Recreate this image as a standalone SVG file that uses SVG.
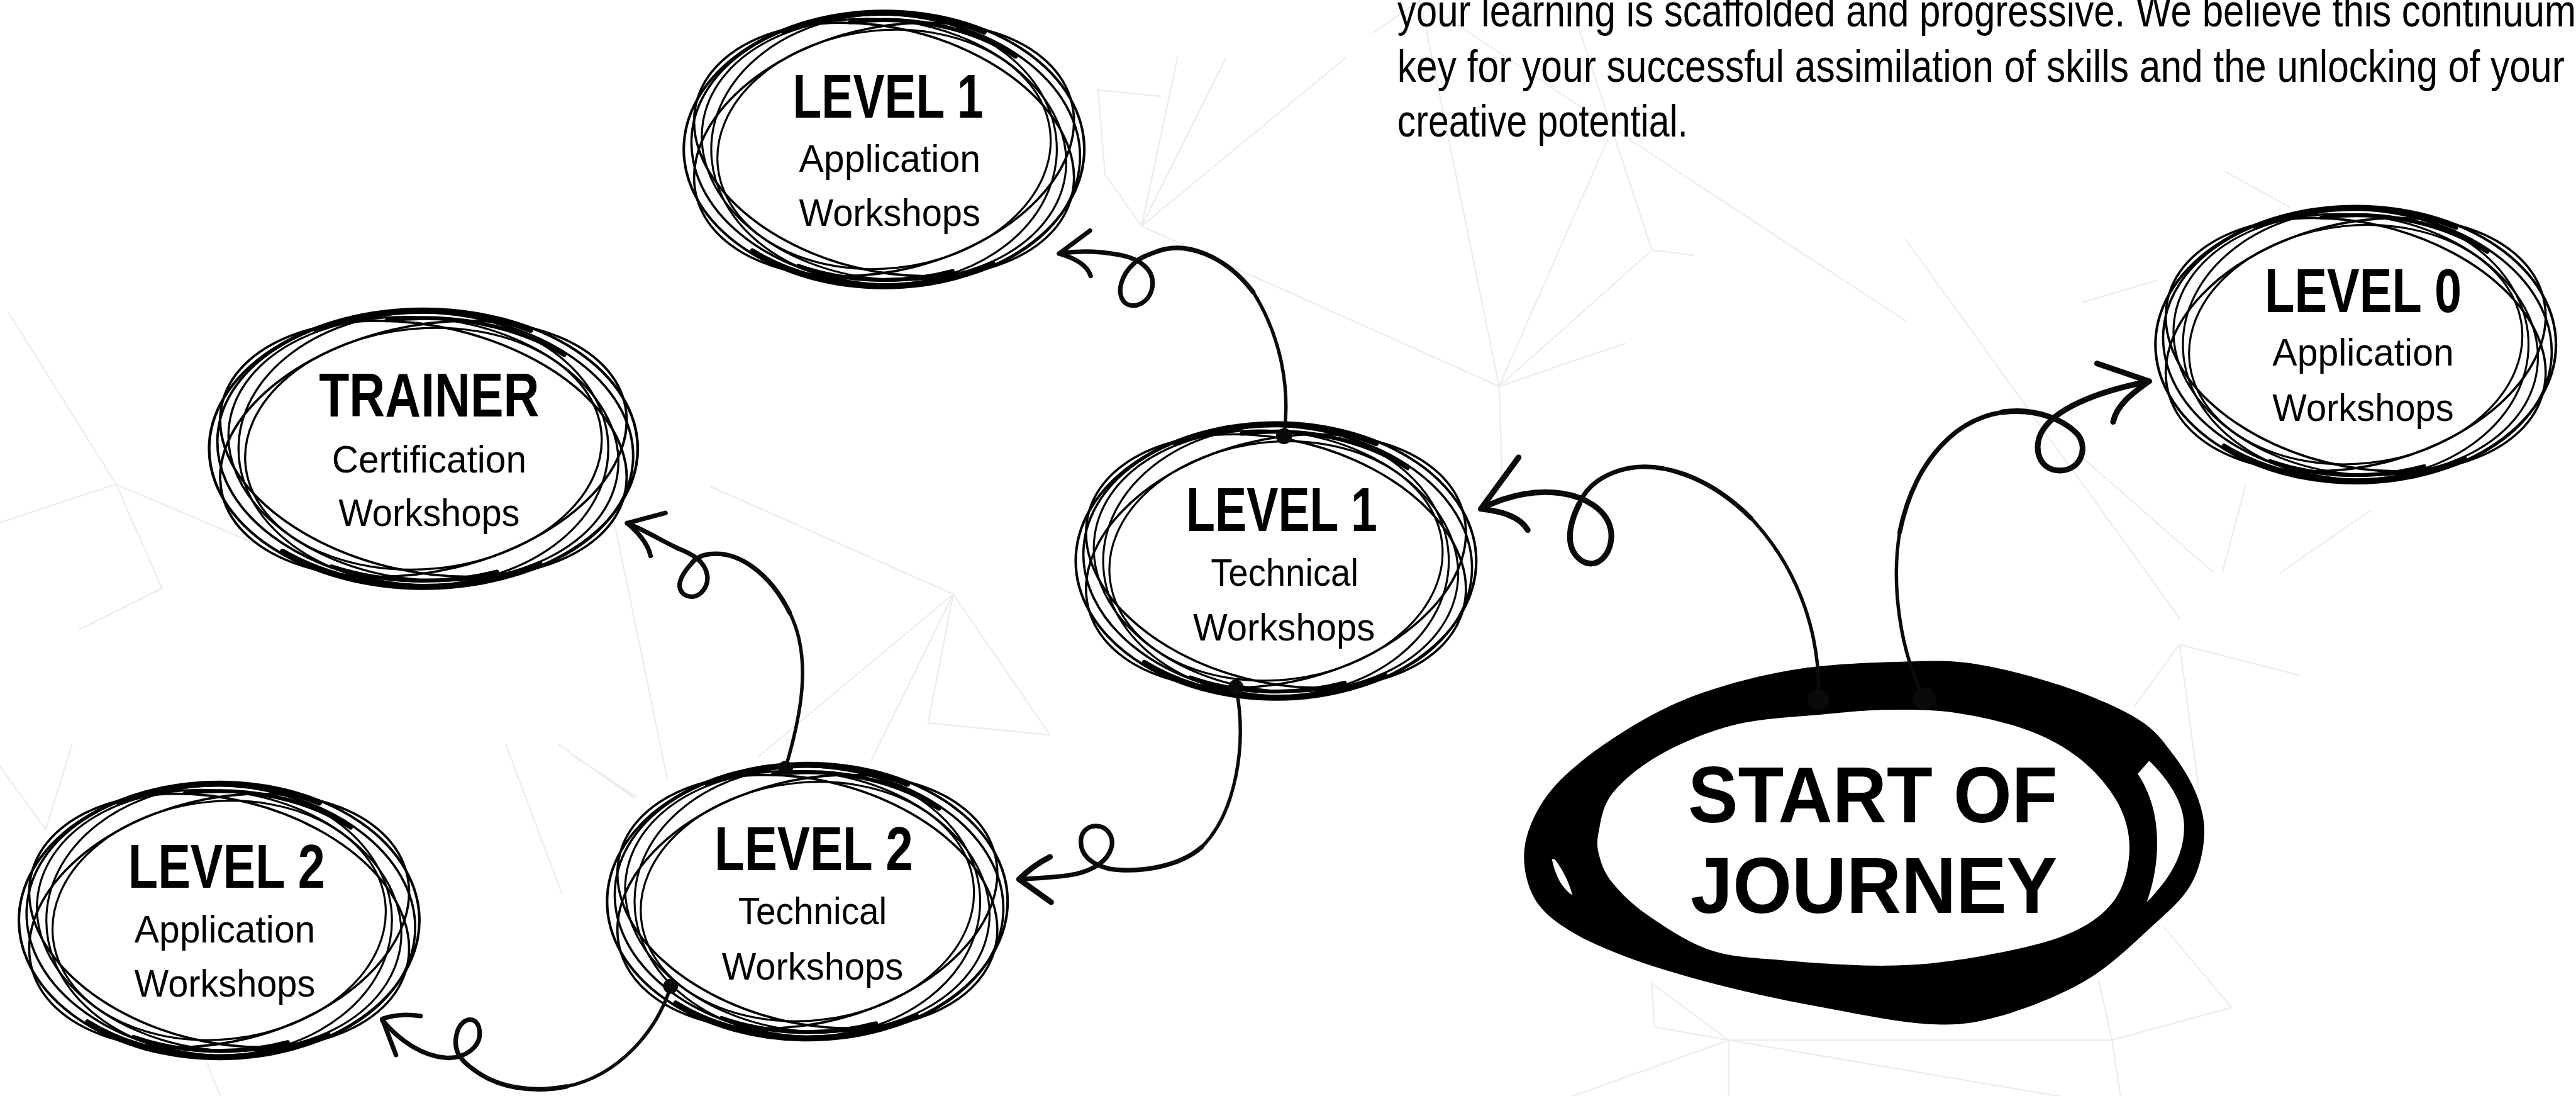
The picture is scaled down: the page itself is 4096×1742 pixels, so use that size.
<svg xmlns="http://www.w3.org/2000/svg" xmlns:xlink="http://www.w3.org/1999/xlink" width="4096" height="1742" viewBox="0 0 4096 1742">
  <defs>
    <style>
      .bg line { stroke: #e9eee7; stroke-width: 2.5; stroke-linecap: round; }
      .ring { fill: none; stroke: #000; }
      .band { fill: none; stroke: #000; stroke-linecap: round; }
      .head { font-family: "Liberation Sans", Arial, sans-serif; font-weight: 700; font-size: 107px; text-anchor: middle; fill: #000; }
      .sub { font-family: "Liberation Sans", Arial, sans-serif; font-size: 68px; text-anchor: middle; fill: #000; }
      .para { font-family: "Liberation Sans", Arial, sans-serif; font-size: 79px; fill: #000; }
      .big { font-family: "Liberation Sans", Arial, sans-serif; font-weight: 700; font-size: 138px; text-anchor: middle; fill: #000; }
      .conn path { fill: none; stroke: #0a0a0a; stroke-linecap: round; stroke-linejoin: round; }
      .thin { stroke-width: 6; }
      .mid { stroke-width: 8; }
      .thick { stroke-width: 10; }
      .dot { fill: #0a0a0a; }
    </style>
    <!-- hand-drawn scribbled ring used by every workshop node -->
    <g id="scribble">
      <ellipse cx="0" cy="0" rx="335" ry="232" fill="#fff"/>
      <ellipse class="ring" rx="350" ry="242" stroke-width="4.5"/>
      <ellipse class="ring" cx="3" rx="340" ry="236" stroke-width="4" transform="rotate(4)"/>
      <ellipse class="ring" rx="338" ry="212" stroke-width="4" transform="rotate(14)"/>
      <ellipse class="ring" rx="338" ry="212" stroke-width="4" transform="rotate(-14)"/>
      <ellipse class="ring" rx="302" ry="236" stroke-width="3.5"/>
      <ellipse class="ring" rx="320" ry="226" stroke-width="3.5" transform="rotate(8)"/>
      <ellipse class="ring" rx="292" ry="208" stroke-width="3.5" transform="rotate(-6)"/>
      <path class="band" stroke-width="9" d="M-175,-205.1 A345,238 0 0 1 175,-205.1"/>
      <path class="band" stroke-width="7" d="M-60,-222.2 A330,226 0 0 1 230,-162.1"/>
      <path class="band" stroke-width="9" d="M190,198.7 A345,238 0 0 1 -230,177.4"/>
      <path class="band" stroke-width="7" d="M120,212.6 A332,228 0 0 1 -150,203.4"/>
    </g>
  </defs>

  <rect width="4096" height="1742" fill="#fff"/>

  <g transform="scale(0.909818)">
    <!-- faint low-poly network behind everything -->
    <g id="background" class="bg">
      <line x1="1919" y1="157" x2="2028" y2="168"/>
      <line x1="1919" y1="157" x2="1931" y2="304"/>
      <line x1="1931" y1="304" x2="1995" y2="395"/>
      <line x1="1995" y1="395" x2="2058" y2="100"/>
      <line x1="1995" y1="395" x2="2143" y2="100"/>
      <line x1="1995" y1="395" x2="2353" y2="100"/>
      <line x1="1995" y1="395" x2="2620" y2="675"/>
      <line x1="2400" y1="57" x2="2482" y2="0"/>
      <line x1="2482" y1="0" x2="2620" y2="675"/>
      <line x1="2482" y1="0" x2="2960" y2="318"/>
      <line x1="2960" y1="318" x2="3330" y2="560"/>
      <line x1="2743" y1="0" x2="2887" y2="437"/>
      <line x1="2887" y1="437" x2="2960" y2="446"/>
      <line x1="2887" y1="437" x2="2620" y2="675"/>
      <line x1="2810" y1="243" x2="2620" y2="675"/>
      <line x1="2620" y1="675" x2="2625" y2="832"/>
      <line x1="2620" y1="675" x2="2840" y2="600"/>
      <line x1="3330" y1="418" x2="3810" y2="1081"/>
      <line x1="3809" y1="1126" x2="3729" y2="1235"/>
      <line x1="3809" y1="1126" x2="4020" y2="1180"/>
      <line x1="3809" y1="1126" x2="3843" y2="1380"/>
      <line x1="2887" y1="1718" x2="2891" y2="1794"/>
      <line x1="2891" y1="1794" x2="3021" y2="1817"/>
      <line x1="3021" y1="1817" x2="3691" y2="1817"/>
      <line x1="3691" y1="1817" x2="3900" y2="1760"/>
      <line x1="3691" y1="1817" x2="3668" y2="1713"/>
      <line x1="3691" y1="1817" x2="3706" y2="1915"/>
      <line x1="3021" y1="1817" x2="3021" y2="1915"/>
      <line x1="3021" y1="1817" x2="2749" y2="1915"/>
      <line x1="3021" y1="1817" x2="3599" y2="1915"/>
      <line x1="3021" y1="1817" x2="2887" y2="1718"/>
      <line x1="3782" y1="1620" x2="3900" y2="1760"/>
      <line x1="3889" y1="300" x2="4001" y2="362"/>
      <line x1="3640" y1="528" x2="3769" y2="490"/>
      <line x1="3640" y1="800" x2="3868" y2="1000"/>
      <line x1="3924" y1="849" x2="3884" y2="1000"/>
      <line x1="4144" y1="891" x2="3986" y2="1000"/>
      <line x1="1242" y1="850" x2="1666" y2="1038"/>
      <line x1="1666" y1="1038" x2="1622" y2="1263"/>
      <line x1="1622" y1="1263" x2="1835" y2="1284"/>
      <line x1="1666" y1="1038" x2="1835" y2="1284"/>
      <line x1="1666" y1="1038" x2="1325" y2="1322"/>
      <line x1="1666" y1="1038" x2="1523" y2="1328"/>
      <line x1="1070" y1="895" x2="1166" y2="1360"/>
      <line x1="1000" y1="1319" x2="1112" y2="1392"/>
      <line x1="15" y1="546" x2="203" y2="846"/>
      <line x1="203" y1="846" x2="0" y2="913"/>
      <line x1="203" y1="846" x2="283" y2="1028"/>
      <line x1="203" y1="846" x2="459" y2="955"/>
      <line x1="283" y1="1028" x2="138" y2="1100"/>
      <line x1="0" y1="1339" x2="80" y2="1449"/>
      <line x1="80" y1="1449" x2="126" y2="1300"/>
      <line x1="976" y1="1300" x2="1108" y2="1394"/>
      <line x1="884" y1="1300" x2="982" y2="1561"/>
      <line x1="362" y1="1857" x2="385" y2="1915"/>
    </g>

    <!-- workshop nodes -->
    <g id="node-level1-application">
      <use xlink:href="#scribble" transform="translate(1545,261)"/>
      <text class="head" x="1552" y="205" textLength="333" lengthAdjust="spacingAndGlyphs">LEVEL 1</text>
      <text class="sub" x="1555" y="300" textLength="317" lengthAdjust="spacingAndGlyphs">Application</text>
      <text class="sub" x="1555" y="395" textLength="317" lengthAdjust="spacingAndGlyphs">Workshops</text>
    </g>

    <g id="node-level1-technical">
      <use xlink:href="#scribble" transform="translate(2230,980)"/>
      <text class="head" x="2240" y="928" textLength="334" lengthAdjust="spacingAndGlyphs">LEVEL 1</text>
      <text class="sub" x="2245" y="1023" textLength="258" lengthAdjust="spacingAndGlyphs">Technical</text>
      <text class="sub" x="2244" y="1119" textLength="318" lengthAdjust="spacingAndGlyphs">Workshops</text>
    </g>

    <g id="node-level0-application">
      <use xlink:href="#scribble" transform="translate(4117,602)"/>
      <text class="head" x="4130" y="545" textLength="344" lengthAdjust="spacingAndGlyphs">LEVEL 0</text>
      <text class="sub" x="4130" y="639" textLength="317" lengthAdjust="spacingAndGlyphs">Application</text>
      <text class="sub" x="4130" y="735" textLength="317" lengthAdjust="spacingAndGlyphs">Workshops</text>
    </g>

    <g id="node-trainer-certification">
      <use xlink:href="#scribble" transform="translate(740,784) scale(1.07,1.01)"/>
      <text class="head" x="750" y="728" textLength="385" lengthAdjust="spacingAndGlyphs">TRAINER</text>
      <text class="sub" x="750" y="825" textLength="340" lengthAdjust="spacingAndGlyphs">Certification</text>
      <text class="sub" x="750" y="919" textLength="317" lengthAdjust="spacingAndGlyphs">Workshops</text>
    </g>

    <g id="node-level2-technical">
      <use xlink:href="#scribble" transform="translate(1411,1575)"/>
      <text class="head" x="1422" y="1520" textLength="347" lengthAdjust="spacingAndGlyphs">LEVEL 2</text>
      <text class="sub" x="1420" y="1615" textLength="260" lengthAdjust="spacingAndGlyphs">Technical</text>
      <text class="sub" x="1420" y="1711" textLength="317" lengthAdjust="spacingAndGlyphs">Workshops</text>
    </g>

    <g id="node-level2-application">
      <use xlink:href="#scribble" transform="translate(383,1608)"/>
      <text class="head" x="396" y="1551" textLength="344" lengthAdjust="spacingAndGlyphs">LEVEL 2</text>
      <text class="sub" x="393" y="1647" textLength="316" lengthAdjust="spacingAndGlyphs">Application</text>
      <text class="sub" x="393" y="1741" textLength="316" lengthAdjust="spacingAndGlyphs">Workshops</text>
    </g>

    <!-- start node: heavy brush ring -->
    <g id="node-start">
      <path fill="#000" fill-rule="evenodd" d="M2664,1485 C2666.5,1457.2 2679.2,1427 2696,1401 C2712.8,1375 2734.3,1353.7 2765,1329 C2795.7,1304.3 2841.8,1273.8 2880,1253 C2918.2,1232.2 2949.5,1218.2 2994,1204 C3038.5,1189.8 3092.2,1176 3147,1168 C3201.8,1160 3272,1157.3 3323,1156 C3374,1154.7 3405.8,1152.8 3453,1160 C3500.2,1167.2 3558.8,1183 3606,1199 C3653.2,1215 3704,1236.2 3736,1256 C3768,1275.8 3780.7,1295.5 3798,1318 C3815.3,1340.5 3831,1366.7 3840,1391 C3849,1415.3 3854,1438 3852,1464 C3850,1490 3843.5,1521 3828,1547 C3812.5,1573 3789.5,1592.3 3759,1620 C3728.5,1647.7 3689.5,1687 3645,1713 C3600.5,1739 3538,1763.3 3492,1776 C3446,1788.7 3420,1791.7 3369,1789 C3318,1786.3 3244.7,1770.8 3186,1760 C3127.3,1749.2 3071.8,1737.8 3017,1724 C2962.2,1710.2 2902.8,1693.5 2857,1677 C2811.2,1660.5 2771.3,1643.2 2742,1625 C2712.7,1606.8 2694,1591.3 2681,1568 C2668,1544.7 2661.5,1512.8 2664,1485 Z M2794,1453 C2797.8,1434.8 2800,1408.5 2818,1386 C2836,1363.5 2866.2,1338 2902,1318 C2937.8,1298 2985.7,1277.7 3033,1266 C3080.3,1254.3 3141.5,1252.3 3186,1248 C3230.5,1243.7 3260.5,1240.3 3300,1240 C3339.5,1239.7 3380.8,1239.5 3423,1246 C3465.2,1252.5 3516,1264.3 3553,1279 C3590,1293.7 3619.5,1311.8 3645,1334 C3670.5,1356.2 3693.3,1385.2 3706,1412 C3718.7,1438.8 3723.5,1467.3 3721,1495 C3718.5,1522.7 3710.2,1554.7 3691,1578 C3671.8,1601.3 3645.7,1619.3 3606,1635 C3566.3,1650.7 3504,1663.3 3453,1672 C3402,1680.7 3357.3,1686.2 3300,1687 C3242.7,1687.8 3161.2,1681.7 3109,1677 C3056.8,1672.3 3025.2,1672 2987,1659 C2948.8,1646 2908.2,1618.5 2880,1599 C2851.8,1579.5 2832.2,1559.3 2818,1542 C2803.8,1524.7 2799,1509.8 2795,1495 C2791,1480.2 2790.2,1471.2 2794,1453 Z"/>
      <path fill="#fff" d="M3756,1329 C3790,1362 3815,1400 3817,1440 C3818,1480 3805,1522 3752,1576 C3768,1530 3772,1490 3769,1450 C3766,1410 3752,1375 3736,1352 Z"/>
      <path fill="#fff" d="M2712,1500 C2718,1530 2730,1552 2748,1564 C2742,1540 2730,1518 2718,1502 Z"/>
      <text class="big" x="3273" y="1437" textLength="646" lengthAdjust="spacingAndGlyphs">START OF</text>
      <text class="big" x="3275" y="1595" textLength="641" lengthAdjust="spacingAndGlyphs">JOURNEY</text>
    </g>

    <!-- looped arrows between nodes -->
    <g id="connectors" class="conn">
      <!-- start -> level 1 technical -->
      <path class="thin" d="M3178,1222 C3182,1120 3150,1000 3060,905"/>
      <path class="mid" d="M3060,905 C2990,835 2900,800 2830,822 C2790,835 2770,855 2760,880"/>
      <path class="thick" d="M2760,880 C2740,920 2735,960 2765,980 C2795,998 2822,960 2815,925 C2808,890 2770,868 2730,862 C2690,856 2640,862 2590,888"/>
      <path class="thick" d="M2654,799 L2588,889 C2620,893 2655,900 2670,926"/>
      <ellipse class="dot" cx="3178" cy="1222" rx="19" ry="18"/>

      <!-- start -> level 0 application -->
      <path class="thin" d="M3364,1220 C3320,1140 3305,1020 3320,930"/>
      <path class="mid" d="M3320,930 C3340,830 3400,735 3500,720"/>
      <path class="thick" d="M3500,720 C3560,712 3610,735 3632,760 C3650,785 3635,822 3600,822 C3565,822 3552,785 3568,755 C3590,715 3660,685 3756,666"/>
      <path class="thick" d="M3665,635 L3756,666 C3730,685 3700,705 3693,737"/>
      <ellipse class="dot" cx="3363" cy="1220" rx="21" ry="19"/>

      <!-- level 1 technical -> level 1 application -->
      <path class="thin" d="M2244,763 C2255,680 2240,590 2190,510"/>
      <path class="mid" d="M2190,510 C2140,445 2070,420 2020,440 C2000,447 1990,452 1982,460 C1960,480 1950,510 1965,528 C1980,542 2010,530 2014,500 C2018,470 1990,452 1960,446 C1930,440 1890,437 1851,443"/>
      <path class="mid" d="M1905,403 L1851,443 C1875,450 1900,462 1906,482"/>
      <circle class="dot" cx="2244" cy="762" r="14"/>

      <!-- level 1 technical -> level 2 technical -->
      <path class="thin" d="M2160,1200 C2180,1300 2160,1420 2100,1480"/>
      <path class="mid" d="M2100,1480 C2060,1515 1990,1525 1940,1518 C1915,1512 1895,1500 1890,1480 C1885,1455 1900,1443 1915,1443 C1935,1443 1948,1462 1942,1482 C1935,1505 1910,1520 1880,1527 C1850,1533 1815,1534 1781,1536"/>
      <path class="thick" d="M1835,1497 C1815,1507 1795,1522 1781,1536 L1837,1576"/>
      <circle class="dot" cx="2160" cy="1200" r="13"/>

      <!-- level 2 technical -> trainer certification -->
      <path class="thin" d="M1373,1341 C1400,1250 1420,1150 1380,1070"/>
      <path class="mid" d="M1380,1070 C1345,1000 1290,962 1240,968 C1225,970 1215,975 1208,985 C1190,1005 1180,1025 1195,1038 C1215,1052 1240,1030 1236,1005 C1232,980 1210,968 1185,958 C1155,944 1125,925 1096,914"/>
      <path class="mid" d="M1163,896 L1096,914 C1115,930 1132,948 1137,971"/>
      <circle class="dot" cx="1373" cy="1342" r="13"/>

      <!-- level 2 technical -> level 2 application -->
      <path class="thin" d="M1172,1723 C1150,1800 1080,1880 990,1898"/>
      <path class="mid" d="M990,1898 C930,1910 870,1900 830,1870 C800,1850 790,1830 800,1800 C810,1775 835,1775 838,1800 C842,1830 810,1850 780,1848 C740,1845 700,1820 668,1782"/>
      <path class="mid" d="M735,1775 C715,1772 690,1772 668,1780 L692,1843"/>
      <circle class="dot" cx="1172" cy="1723" r="13"/>
    </g>

    <!-- intro paragraph, top right -->
    <g id="intro-text">
      <text class="para" x="2442" y="46" textLength="2060" lengthAdjust="spacingAndGlyphs">your learning is scaffolded and progressive. We believe this continuum</text>
      <text class="para" x="2442" y="143" textLength="2040" lengthAdjust="spacingAndGlyphs">key for your successful assimilation of skills and the unlocking of your</text>
      <text class="para" x="2442" y="239" textLength="508" lengthAdjust="spacingAndGlyphs">creative potential.</text>
    </g>
  </g>
</svg>
